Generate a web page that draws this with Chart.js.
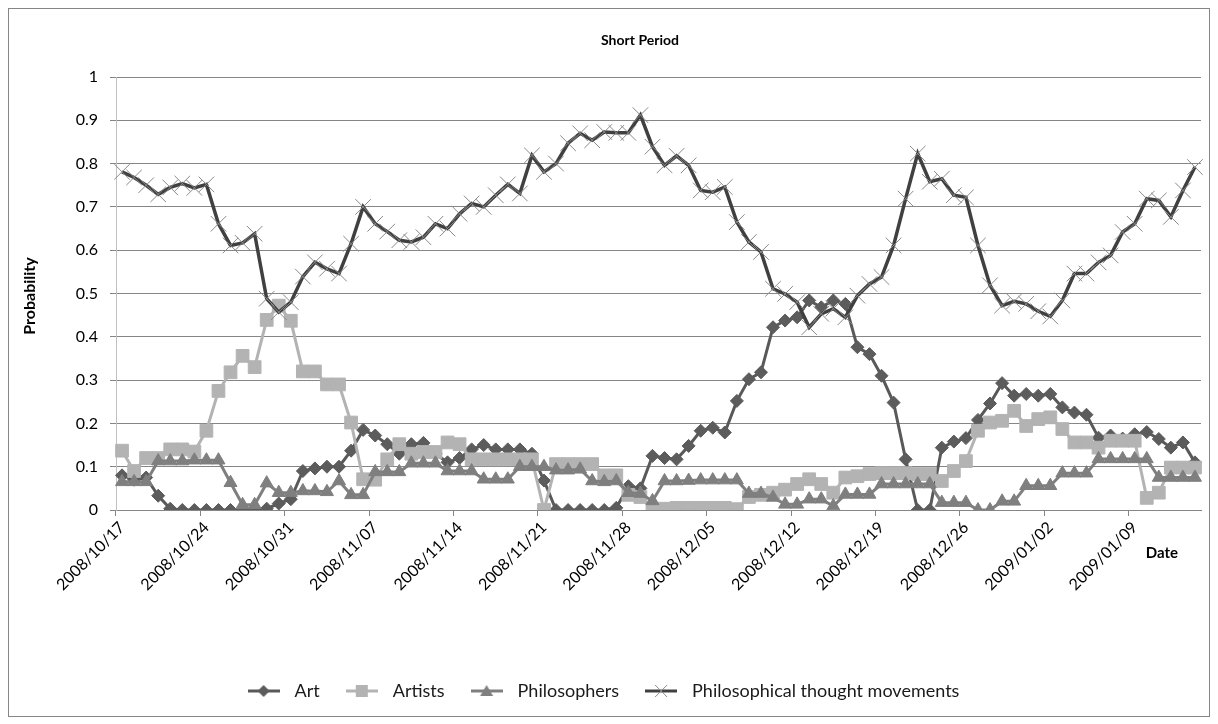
<!DOCTYPE html>
<html>
<head>
<meta charset="utf-8">
<script src="https://cdn.jsdelivr.net/npm/chart.js@4.4.0/dist/chart.umd.min.js"></script>
<style>
  html, body { margin: 0; padding: 0; background: #fff; }
  #wrap { position: relative; width: 1218px; height: 724px; }
</style>
</head>
<body>
<div id="wrap"><canvas id="mycanvas" width="1218" height="724"></canvas></div>
<script>
// one label per day, 2008/10/17 .. 2009/01/14
var dates = [
  '2008/10/17','2008/10/18','2008/10/19','2008/10/20','2008/10/21','2008/10/22','2008/10/23','2008/10/24','2008/10/25','2008/10/26',
  '2008/10/27','2008/10/28','2008/10/29','2008/10/30','2008/10/31','2008/11/01','2008/11/02','2008/11/03','2008/11/04','2008/11/05',
  '2008/11/06','2008/11/07','2008/11/08','2008/11/09','2008/11/10','2008/11/11','2008/11/12','2008/11/13','2008/11/14','2008/11/15',
  '2008/11/16','2008/11/17','2008/11/18','2008/11/19','2008/11/20','2008/11/21','2008/11/22','2008/11/23','2008/11/24','2008/11/25',
  '2008/11/26','2008/11/27','2008/11/28','2008/11/29','2008/11/30','2008/12/01','2008/12/02','2008/12/03','2008/12/04','2008/12/05',
  '2008/12/06','2008/12/07','2008/12/08','2008/12/09','2008/12/10','2008/12/11','2008/12/12','2008/12/13','2008/12/14','2008/12/15',
  '2008/12/16','2008/12/17','2008/12/18','2008/12/19','2008/12/20','2008/12/21','2008/12/22','2008/12/23','2008/12/24','2008/12/25',
  '2008/12/26','2008/12/27','2008/12/28','2008/12/29','2008/12/30','2008/12/31','2009/01/01','2009/01/02','2009/01/03','2009/01/04',
  '2009/01/05','2009/01/06','2009/01/07','2009/01/08','2009/01/09','2009/01/10','2009/01/11','2009/01/12','2009/01/13','2009/01/14'
];

var art = [0.08,0.07,0.075,0.033,0.003,0,0,0,0,0,
  0,0,0.003,0.015,0.025,0.09,0.096,0.1,0.1,0.137,
  0.185,0.172,0.152,0.13,0.152,0.155,0.13,0.11,0.12,0.14,
  0.15,0.14,0.14,0.14,0.13,0.068,0,0,0,0,
  0,0.005,0.055,0.05,0.125,0.12,0.117,0.148,0.183,0.19,
  0.179,0.252,0.302,0.318,0.422,0.4375,0.445,0.484,0.468,0.484,
  0.476,0.376,0.36,0.31,0.248,0.117,0,0,0.144,0.158,
  0.166,0.208,0.246,0.293,0.264,0.268,0.264,0.268,0.237,0.225,
  0.22,0.167,0.172,0.165,0.175,0.18,0.164,0.144,0.156,0.11];

var artists = [0.137,0.09,0.12,0.12,0.14,0.14,0.135,0.183,0.275,0.318,
  0.356,0.33,0.439,0.472,0.437,0.32,0.32,0.29,0.29,0.202,
  0.071,0.07,0.117,0.152,0.13,0.134,0.134,0.156,0.152,0.117,
  0.117,0.117,0.117,0.117,0.117,0,0.106,0.106,0.106,0.106,
  0.08,0.08,0.035,0.03,0.003,0.003,0.005,0.005,0.005,0.005,
  0.005,0.002,0.03,0.035,0.04,0.047,0.06,0.071,0.06,0.04,
  0.075,0.078,0.083,0.085,0.085,0.085,0.083,0.083,0.067,0.09,
  0.113,0.183,0.202,0.206,0.229,0.194,0.21,0.214,0.187,0.156,
  0.156,0.144,0.16,0.16,0.16,0.028,0.04,0.098,0.098,0.098];

var philosophers = [0.065,0.065,0.065,0.113,0.113,0.113,0.115,0.115,0.115,0.063,
  0.012,0.012,0.062,0.04,0.04,0.044,0.044,0.042,0.067,0.035,
  0.035,0.088,0.088,0.088,0.108,0.108,0.108,0.09,0.09,0.09,
  0.071,0.071,0.071,0.1,0.1,0.1,0.092,0.092,0.094,0.067,
  0.065,0.067,0.04,0.038,0.021,0.067,0.067,0.068,0.069,0.069,
  0.069,0.069,0.038,0.038,0.029,0.013,0.013,0.025,0.025,0.009,
  0.036,0.036,0.036,0.06,0.06,0.06,0.06,0.06,0.017,0.017,
  0.017,0,0,0.02,0.02,0.056,0.056,0.056,0.085,0.085,
  0.085,0.118,0.118,0.118,0.118,0.118,0.075,0.075,0.075,0.075];

var movements = [0.781,0.768,0.75,0.729,0.745,0.754,0.744,0.752,0.661,0.611,
  0.617,0.638,0.488,0.457,0.48,0.539,0.572,0.557,0.546,0.615,
  0.70,0.661,0.643,0.623,0.619,0.63,0.661,0.65,0.684,0.708,
  0.70,0.727,0.752,0.731,0.819,0.781,0.80,0.847,0.87,0.854,
  0.873,0.871,0.871,0.912,0.839,0.796,0.818,0.796,0.738,0.734,
  0.746,0.665,0.619,0.596,0.511,0.499,0.48,0.422,0.453,0.465,
  0.445,0.495,0.522,0.538,0.611,0.719,0.823,0.758,0.765,0.727,
  0.722,0.611,0.519,0.472,0.482,0.476,0.459,0.447,0.484,0.546,
  0.546,0.572,0.588,0.642,0.661,0.719,0.715,0.677,0.738,0.792];

var seriesNames = ['Art', 'Artists', 'Philosophers', 'Philosophical thought movements'];
var yTicks = [0, 0.1, 0.2, 0.3, 0.4, 0.5, 0.6, 0.7, 0.8, 0.9, 1];
var labelEvery = 7;

var FONT = 'Lato, "Liberation Sans", sans-serif';

// small line+marker pictures for the legend
function legendIcon(lineColor, shape, markColor) {
  var c = document.createElement('canvas');
  c.width = 32; c.height = 16;
  var g = c.getContext('2d');
  g.strokeStyle = lineColor; g.lineWidth = 3;
  g.beginPath(); g.moveTo(0, 8); g.lineTo(32, 8); g.stroke();
  g.fillStyle = markColor; g.strokeStyle = markColor; g.lineWidth = 1;
  g.beginPath();
  if (shape == 'diamond') {
    g.moveTo(16, 2); g.lineTo(22, 8); g.lineTo(16, 14); g.lineTo(10, 8); g.closePath(); g.fill();
  } else if (shape == 'square') {
    g.rect(10, 2, 12, 12); g.fill();
  } else if (shape == 'triangle') {
    g.moveTo(16, 2); g.lineTo(22.5, 13); g.lineTo(9.5, 13); g.closePath(); g.fill();
  } else {
    g.moveTo(10, 2); g.lineTo(22, 14); g.moveTo(22, 2); g.lineTo(10, 14); g.stroke();
  }
  return c;
}
var icons = [
  legendIcon('#595959', 'diamond', '#5c5c5c'),
  legendIcon('#b3b3b3', 'square', '#b3b3b3'),
  legendIcon('#7f7f7f', 'triangle', '#7f7f7f'),
  legendIcon('#404040', 'cross', '#8a8a8a')
];

var frameAndText = {
  id: 'frameAndText',
  beforeDraw: function(chart) {
    var ctx = chart.ctx;
    ctx.save();
    ctx.fillStyle = '#fff';
    ctx.fillRect(0, 0, chart.width, chart.height);
    ctx.strokeStyle = '#868686';
    ctx.lineWidth = 1;
    ctx.strokeRect(8.5, 8.5, 1201, 708);
    ctx.restore();
  },
  afterDraw: function(chart) {
    var ctx = chart.ctx;
    ctx.save();
    ctx.fillStyle = '#000';
    ctx.textAlign = 'center';
    ctx.textBaseline = 'middle';
    ctx.font = 'bold 14px ' + FONT;
    ctx.fillText('Short Period', 640, 40);
    ctx.font = 'bold 15px ' + FONT;
    ctx.fillText('Date', 1162, 553);
    ctx.font = 'bold 16px ' + FONT;
    ctx.translate(30, 296);
    ctx.rotate(-Math.PI / 2);
    ctx.fillText('Probability', 0, 0);
    ctx.restore();
  }
};

var chartdata = {
  labels: dates,
  datasets: [
    {
      label: seriesNames[0], data: art, order: 4,
      borderColor: '#595959', borderWidth: 3,
      pointStyle: 'rectRot', pointRadius: 6.5,
      pointBackgroundColor: '#5c5c5c', pointBorderColor: '#5c5c5c', pointBorderWidth: 1
    },
    {
      label: seriesNames[1], data: artists, order: 3,
      borderColor: '#b3b3b3', borderWidth: 3,
      pointStyle: 'rect', pointRadius: 9,
      pointBackgroundColor: '#b3b3b3', pointBorderColor: '#b3b3b3', pointBorderWidth: 1
    },
    {
      label: seriesNames[2], data: philosophers, order: 2,
      borderColor: '#7f7f7f', borderWidth: 3,
      pointStyle: 'triangle', pointRadius: 7.5,
      pointBackgroundColor: '#7f7f7f', pointBorderColor: '#7f7f7f', pointBorderWidth: 1
    },
    {
      label: seriesNames[3], data: movements, order: 1,
      borderColor: '#404040', borderWidth: 3.5,
      pointStyle: 'crossRot', pointRadius: 11,
      pointBorderColor: '#8a8a8a', pointBorderWidth: 1
    }
  ]
};

var ctx = document.getElementById('mycanvas');

var lineGraph = new Chart(ctx, {
  type: 'line',
  data: chartdata,
  plugins: [frameAndText],
  options: {
    responsive: false,
    animation: false,
    events: [],
    layout: { padding: { top: 77, left: 0, right: 17, bottom: 14 } },
    elements: { line: { tension: 0 } },
    plugins: {
      title: { display: false },
      tooltip: { enabled: false },
      legend: {
        position: 'bottom',
        labels: {
          usePointStyle: true,
          pointStyleWidth: 44,
          boxHeight: 18,
          padding: 20,
          color: '#1a1a1a',
          font: { family: FONT, size: 18 },
          generateLabels: function(chart) {
            var items = Chart.defaults.plugins.legend.labels.generateLabels(chart);
            items.forEach(function(it) { it.pointStyle = icons[it.datasetIndex]; });
            return items;
          },
          sort: function(a, b) { return a.datasetIndex - b.datasetIndex; }
        }
      }
    },
    scales: {
      x: {
        offset: true,
        afterFit: function(scale) { scale.height = 152; },
        grid: {
          offset: true,
          drawOnChartArea: false,
          drawTicks: true,
          tickLength: 6,
          color: function(c) { return c.index % labelEvery === 0 ? '#868686' : 'rgba(0,0,0,0)'; }
        },
        border: { display: true, color: '#868686' },
        ticks: {
          autoSkip: false,
          maxRotation: 45,
          minRotation: 45,
          padding: 2,
          color: '#000',
          font: { family: FONT, size: 16 },
          callback: function(v, i) { return i % labelEvery === 0 ? dates[i] : ''; }
        }
      },
      y: {
        min: 0,
        max: 1,
        afterFit: function(scale) { scale.width = 116; },
        afterBuildTicks: function(scale) { scale.ticks = yTicks.map(function(v) { return { value: v }; }); },
        grid: { color: '#868686', lineWidth: 1, tickLength: 6 },
        border: { display: true, color: '#c0c0c0' },
        ticks: {
          padding: 12,
          color: '#000',
          font: { family: FONT, size: 16 },
          callback: function(v) { return String(Math.round(v * 10) / 10); }
        }
      }
    }
  }
});
</script>
</body>
</html>
